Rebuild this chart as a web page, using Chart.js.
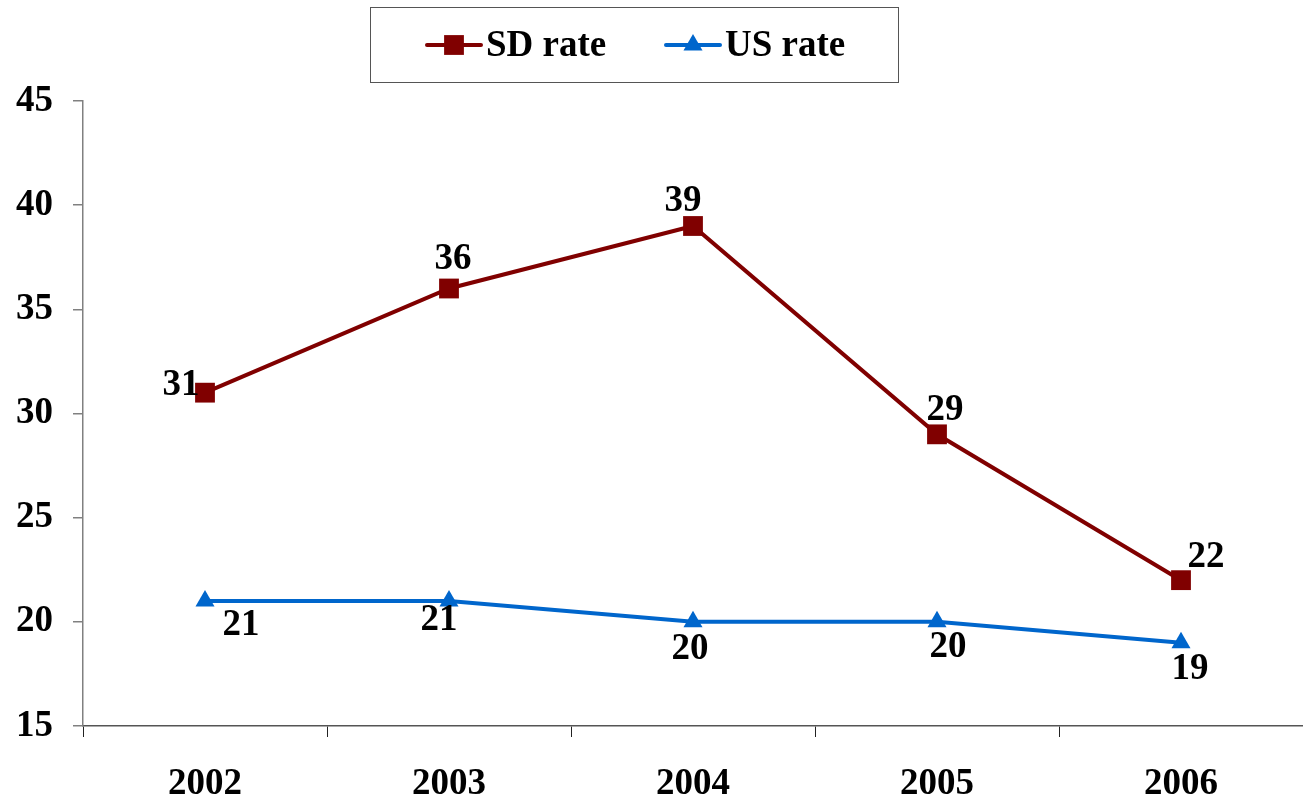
<!DOCTYPE html>
<html>
<head>
<meta charset="utf-8">
<script src="https://cdn.jsdelivr.net/npm/chart.js@4"></script>
<style>
    html, body { margin: 0; background: #fff; overflow: hidden; }
    #wrap { position: relative; width: 1303px; height: 799px; }
    #chart1 { display: block; }
</style>
</head>
<body>
<div id="wrap"><canvas id="chart1"></canvas></div>
<script>
// data
const years = ['2002', '2003', '2004', '2005', '2006'];
const sdRate = [31, 36, 39, 29, 22];
const usRate = [21, 21, 20, 20, 19];
const yTicks = [15, 20, 25, 30, 35, 40, 45];

// where each value label sits relative to its point (px)
const sdLabelOffsets = [[-24, -7], [4, -29], [-10, -25], [8, -24], [25, -23]];
const usLabelOffsets = [[36, 24], [-10, 19], [-3, 28], [11, 26], [9, 27]];

const SERIF = '"Liberation Serif", "Times New Roman", serif';
const SD_COLOR = '#800000';
const US_COLOR = '#0066CC';

// value labels next to points
const valueLabels = {
    id: 'valueLabels',
    afterDatasetsDraw(chart) {
        const ctx = chart.ctx;
        const offsets = [sdLabelOffsets, usLabelOffsets];
        ctx.save();
        ctx.font = 'bold 37px ' + SERIF;
        ctx.fillStyle = '#000';
        ctx.textAlign = 'center';
        ctx.textBaseline = 'middle';
        chart.data.datasets.forEach((ds, di) => {
            chart.getDatasetMeta(di).data.forEach((pt, i) => {
                const o = offsets[di][i];
                ctx.fillText(String(ds.data[i]), pt.x + o[0], pt.y + o[1]);
            });
        });
        ctx.restore();
    }
};

// boxed legend at the top
const boxLegend = {
    id: 'boxLegend',
    afterDraw(chart) {
        const ctx = chart.ctx;
        const h = Chart.helpers;
        ctx.save();
        ctx.strokeStyle = '#555';
        ctx.lineWidth = 1;
        ctx.strokeRect(370.5, 7.5, 528, 75);

        const items = [
            { x: 427, ds: chart.data.datasets[0] },
            { x: 666, ds: chart.data.datasets[1] }
        ];
        const cy = 45;
        items.forEach(it => {
            const ds = it.ds;
            ctx.strokeStyle = ds.borderColor;
            ctx.lineWidth = 4;
            ctx.lineCap = 'round';
            ctx.beginPath();
            ctx.moveTo(it.x, cy);
            ctx.lineTo(it.x + 54, cy);
            ctx.stroke();
            ctx.fillStyle = ds.pointBackgroundColor;
            h.drawPoint(ctx, {
                pointStyle: ds.pointStyle,
                radius: ds.pointRadius,
                borderWidth: 0,
                rotation: 0
            }, it.x + 27, cy);
            ctx.fillStyle = '#000';
            ctx.font = 'bold 37px ' + SERIF;
            ctx.textAlign = 'left';
            ctx.textBaseline = 'middle';
            ctx.fillText(ds.label, it.x + 59, cy + 1);
        });
        ctx.restore();
    }
};

let chart1 = new Chart(document.getElementById('chart1'), {
    type: 'line',
    data: {
        labels: years,
        datasets: [{
            label: 'SD rate',
            data: sdRate,
            borderColor: SD_COLOR,
            backgroundColor: SD_COLOR,
            pointBackgroundColor: SD_COLOR,
            pointBorderWidth: 0,
            borderWidth: 4,
            pointStyle: 'rect',
            pointRadius: 14,
            tension: 0,
            fill: false
        }, {
            label: 'US rate',
            data: usRate,
            borderColor: US_COLOR,
            backgroundColor: US_COLOR,
            pointBackgroundColor: US_COLOR,
            pointBorderWidth: 0,
            borderWidth: 4,
            pointStyle: 'triangle',
            pointRadius: 11,
            tension: 0,
            fill: false
        }]
    },
    options: {
        responsive: true,
        maintainAspectRatio: false,
        animation: false,
        layout: {
            autoPadding: false,
            padding: { top: 101, right: 0, left: 0, bottom: 0 }
        },
        plugins: {
            legend: { display: false },
            tooltip: { enabled: false }
        },
        scales: {
            x: {
                type: 'category',
                offset: true,
                grid: {
                    offset: true,
                    drawOnChartArea: false,
                    drawTicks: true,
                    tickLength: 11,
                    color: '#222',
                    lineWidth: 1
                },
                border: { display: true, color: '#555', width: 1.5 },
                ticks: {
                    color: '#000',
                    padding: 25,
                    maxRotation: 0,
                    font: { family: SERIF, size: 37, weight: 'bold' }
                },
                afterFit(scale) {
                    scale.height = 73;
                    scale.paddingLeft = 0;
                    scale.paddingRight = 0;
                }
            },
            y: {
                min: yTicks[0],
                max: yTicks[yTicks.length - 1],
                afterBuildTicks(scale) {
                    scale.ticks = yTicks.map(v => ({ value: v }));
                },
                grid: {
                    drawOnChartArea: false,
                    drawTicks: true,
                    tickLength: 10,
                    color: '#808080',
                    lineWidth: 1.5
                },
                border: { display: true, color: '#808080', width: 1.5 },
                ticks: {
                    color: '#000',
                    padding: 20,
                    font: { family: SERIF, size: 37, weight: 'bold' }
                },
                afterFit(scale) { scale.width = 83; }
            }
        }
    },
    plugins: [valueLabels, boxLegend]
});
</script>
</body>
</html>
